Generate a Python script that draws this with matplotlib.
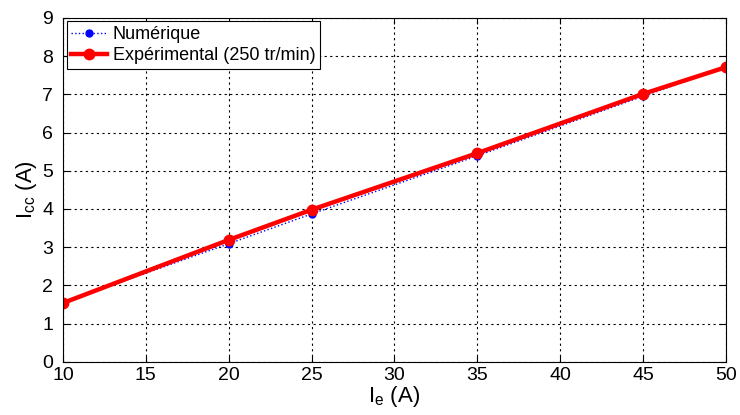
import numpy as np
import matplotlib.pyplot as plt

plt.rcParams['font.family'] = ['Liberation Sans', 'DejaVu Sans']
plt.rcParams['mathtext.fontset'] = 'custom'
plt.rcParams['mathtext.rm'] = 'Liberation Sans'

ie = [10, 20, 25, 35, 45, 50]
icc_num = [1.55, 3.09, 3.87, 5.39, 6.95, 7.71]
icc_exp = [1.54, 3.19, 3.98, 5.46, 7.01, 7.71]

fig = plt.figure(figsize=(7.4, 4.15), dpi=100)
ax = fig.add_axes([0.085, 0.128, 0.896, 0.829])

ax.plot(ie, icc_num, ':', color='blue', marker='o', markersize=5, linewidth=1,
        label='Numérique')
ax.plot(ie, icc_exp, '-', color='red', marker='o', markersize=7.5, linewidth=3.2,
        label='Expérimental (250 tr/min)')

ax.set_xlim(10, 50)
ax.set_ylim(0, 9)
ax.set_xticks(np.arange(10, 51, 5))
ax.set_yticks(np.arange(0, 10, 1))
ax.grid(True, color='black', linestyle=(0, (2, 3)), linewidth=0.8)
ax.tick_params(labelsize=14, direction='in', length=4, top=True, right=True)
ax.tick_params(axis='x', pad=4)
ax.tick_params(axis='y', pad=7)
ax.set_xlabel(r'$\mathregular{I_e}$ (A)', fontsize=16, labelpad=0)
ax.set_ylabel(r'$\mathregular{I_{cc}}$ (A)', fontsize=16, labelpad=2)

leg = ax.legend(loc='upper left', fontsize=13, fancybox=False, framealpha=1,
                edgecolor='black', borderaxespad=0.2, handlelength=2.0,
                handletextpad=0.3, borderpad=0.25, labelspacing=0.25)
leg.get_frame().set_linewidth(0.8)

plt.savefig('out.png')
